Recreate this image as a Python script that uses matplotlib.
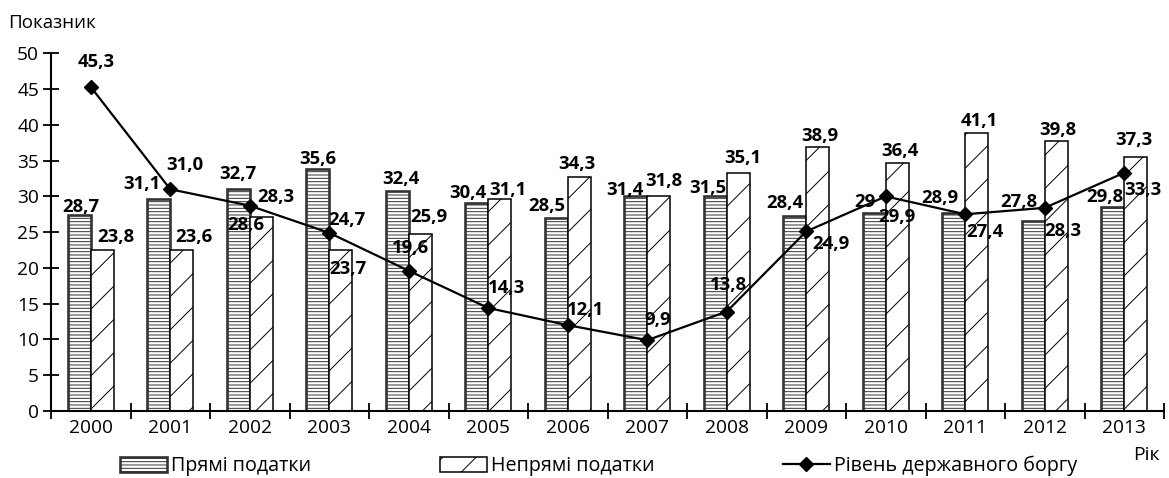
import matplotlib
matplotlib.use("Agg")
import matplotlib.pyplot as plt
import numpy as np

plt.rcParams['font.family'] = ['Open Sans', 'DejaVu Sans']
plt.rcParams['hatch.linewidth'] = 0.7

years = ['2000', '2001', '2002', '2003', '2004', '2005', '2006',
         '2007', '2008', '2009', '2010', '2011', '2012', '2013']
direct = [27.4, 29.6, 31.0, 33.8, 30.7, 29.1, 27.0, 30.0, 30.0, 27.2, 27.7, 27.7, 26.6, 28.5]
indirect = [22.5, 22.5, 27.1, 22.5, 24.7, 29.6, 32.7, 30.1, 33.2, 36.9, 34.6, 38.9, 37.7, 35.5]
debt = [45.3, 31.0, 28.7, 24.9, 19.6, 14.4, 12.0, 9.9, 13.9, 25.1, 30.0, 27.5, 28.4, 33.3]

direct_labels = ['28,7', '31,1', '32,7', '35,6', '32,4', '30,4', '28,5',
                 '31,4', '31,5', '28,4', '29', '28,9', '27,8', '29,8']
indirect_labels = ['23,8', '23,6', '28,6', '23,7', '25,9', '31,1', '34,3',
                   '31,8', '35,1', '38,9', '36,4', '41,1', '39,8', '37,3']
debt_labels = ['45,3', '31,0', '28,3', '24,7', '19,6', '14,3', '12,1',
               '9,9', '13,8', '24,9', '29,9', '27,4', '28,3', '33,3']

# label offsets (pixels, x right / y up) relative to bar tops / markers
direct_off = [(1.5, 8), (-16.5, 15), (0, 15), (0, 10), (4, 12.7), (-9, 9.7), (-9.3, 11.7),
              (-10.7, 6.7), (-7.5, 8.7), (-10, 13.7), (-9, 10.7), (-14, 14.7), (-14.3, 18.7), (-8.3, 10.3)]
indirect_off = [(13.5, 13), (12.5, 13), (-15.5, -7.7), (7.5, -19), (9, 17), (8, 9.3), (-2, 13.3),
                (5, 14.7), (4.7, 15.3), (2, 10.7), (2.7, 12.3), (2.3, 11.7), (1.5, 11), (-1.7, 17.3)]
debt_off = [(5.3, 25), (15, 24), (26, 8.7), (18, 13), (2, 23), (18, 20), (17.5, 15),
            (10, 20), (1.5, 26.7), (24.7, -13), (11, -21), (19.7, -18), (17.7, -23), (19, -17.3)]

W, H = 1169, 478
fig = plt.figure(figsize=(W / 100, H / 100), dpi=100)
ax = fig.add_axes([51 / W, 67 / H, (1164 - 51) / W, 357.7 / H])

x = np.arange(len(years))
bw = 0.29
b1 = ax.bar(x - bw / 2, direct, bw, facecolor='white', edgecolor='#333333',
            linewidth=1.9, hatch='-----', label='Прямі податки', zorder=2)
b2 = ax.bar(x + bw / 2, indirect, bw, facecolor='white', edgecolor='black',
            linewidth=1.1, hatch='/', label='Непрямі податки', zorder=2)
ln, = ax.plot(x, debt, color='black', linewidth=1.6, marker='D', markersize=7.5,
              label='Рівень державного боргу', zorder=4)

lab_kw = dict(textcoords='offset pixels', ha='center', va='center',
              fontsize=13.3, fontweight='bold', zorder=5)
for i in range(len(years)):
    ax.annotate(direct_labels[i], (x[i] - bw / 2, direct[i]), xytext=direct_off[i], **lab_kw)
    ax.annotate(indirect_labels[i], (x[i] + bw / 2, indirect[i]), xytext=indirect_off[i], **lab_kw)
    ax.annotate(debt_labels[i], (x[i], debt[i]), xytext=debt_off[i], **lab_kw)

ax.set_xlim(-0.5, len(years) - 0.5)
ax.set_ylim(0, 50)
ax.set_yticks(np.arange(0, 51, 5))
ax.set_xticks(np.arange(-0.5, len(years), 1.0))
ax.set_xticklabels([])
ax.set_xticks(x, minor=True)
ax.set_xticklabels(years, minor=True)
ax.tick_params(axis='x', which='major', direction='inout', length=11, width=1.3)
ax.tick_params(axis='x', which='minor', length=0, pad=6, labelsize=13.8)
ax.tick_params(axis='y', direction='inout', length=11, width=1.3, pad=3, labelsize=13.8)
for s in ['top', 'right']:
    ax.spines[s].set_visible(False)
for s in ['left', 'bottom']:
    ax.spines[s].set_linewidth(1.5)
ax.patch.set_alpha(0)

fig.text(8 / W, 1 - 23 / H, 'Показник', fontsize=13.5, ha='left', va='center')
fig.text(1160 / W, 1 - 455 / H, 'Рік', fontsize=14, ha='right', va='center')

fig.legend(handles=[b1, b2, ln], loc='center left', bbox_to_anchor=(120 / W, 12 / H),
           ncol=3, frameon=False, fontsize=14.2, borderpad=0, borderaxespad=0,
           handlelength=2.4, handleheight=0.75, handletextpad=0.2, columnspacing=6.5)

fig.savefig('out.png', dpi=100)
